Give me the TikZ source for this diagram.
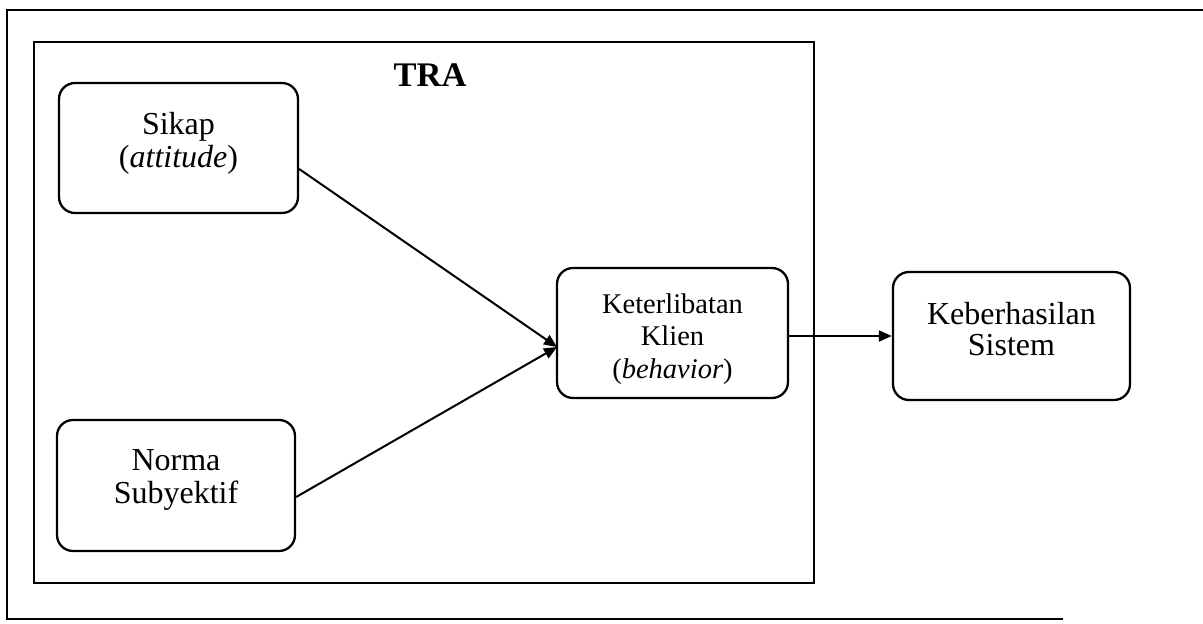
\documentclass[tikz,border=0pt]{standalone}
\usepackage{fontspec}
\setmainfont{Liberation Serif}
\usetikzlibrary{arrows.meta}
\tikzset{
  frame/.style={line width=2.3pt, line join=miter},
  rbox/.style={draw, line width=2.3pt, rounded corners=16pt, inner sep=0pt},
  conn/.style={line width=2pt, -{Triangle[length=13pt,width=11pt]}},
  txt/.style={align=center, anchor=base, inner sep=0pt},
}
\begin{document}
\begin{tikzpicture}[x=1pt,y=-1pt]
\useasboundingbox (0,0) rectangle (1203,624);
% outer frame (right side not shown)
\draw[frame] (1203,10) -- (7,10) -- (7,619) -- (1063,619);
% inner TRA frame
\draw[frame] (34,42) rectangle (814,583);
\node[txt, font=\fontsize{34.5}{38}\selectfont\bfseries] (tra) at (430,86) {TRA};
% boxes
\node[rbox, minimum width=239pt, minimum height=130pt] (sikap) at (178.5,148) {};
\node[rbox, minimum width=238pt, minimum height=131pt] (norma) at (176,485.5) {};
\node[rbox, minimum width=231pt, minimum height=130pt] (ket) at (672.5,333) {};
\node[rbox, minimum width=237pt, minimum height=128pt] (keb) at (1011.5,336) {};
% texts (anchor base = last line)
\node[txt, font=\fontsize{32}{33}\selectfont] (sikapT) at (178.5,167) {Sikap\\(\textit{attitude})};
\node[txt, font=\fontsize{32}{33}\selectfont] (normaT) at (176,503) {Norma\\Subyektif};
\node[txt, font=\fontsize{28.5}{32.5}\selectfont] (ketT) at (672.5,378) {Keterlibatan\\Klien\\(\textit{behavior})};
\node[txt, font=\fontsize{32}{31}\selectfont] (kebT) at (1011.5,355) {Keberhasilan\\Sistem};
% connectors
\coordinate (ketin) at (557,347);
\draw[conn] (sikap.east |- 0,169) -- (ketin);
\draw[conn] (norma.east |- 0,497) -- (ketin);
\draw[conn] (ket.east |- 0,336) -- (keb.west |- 0,336);
\end{tikzpicture}
\end{document}
